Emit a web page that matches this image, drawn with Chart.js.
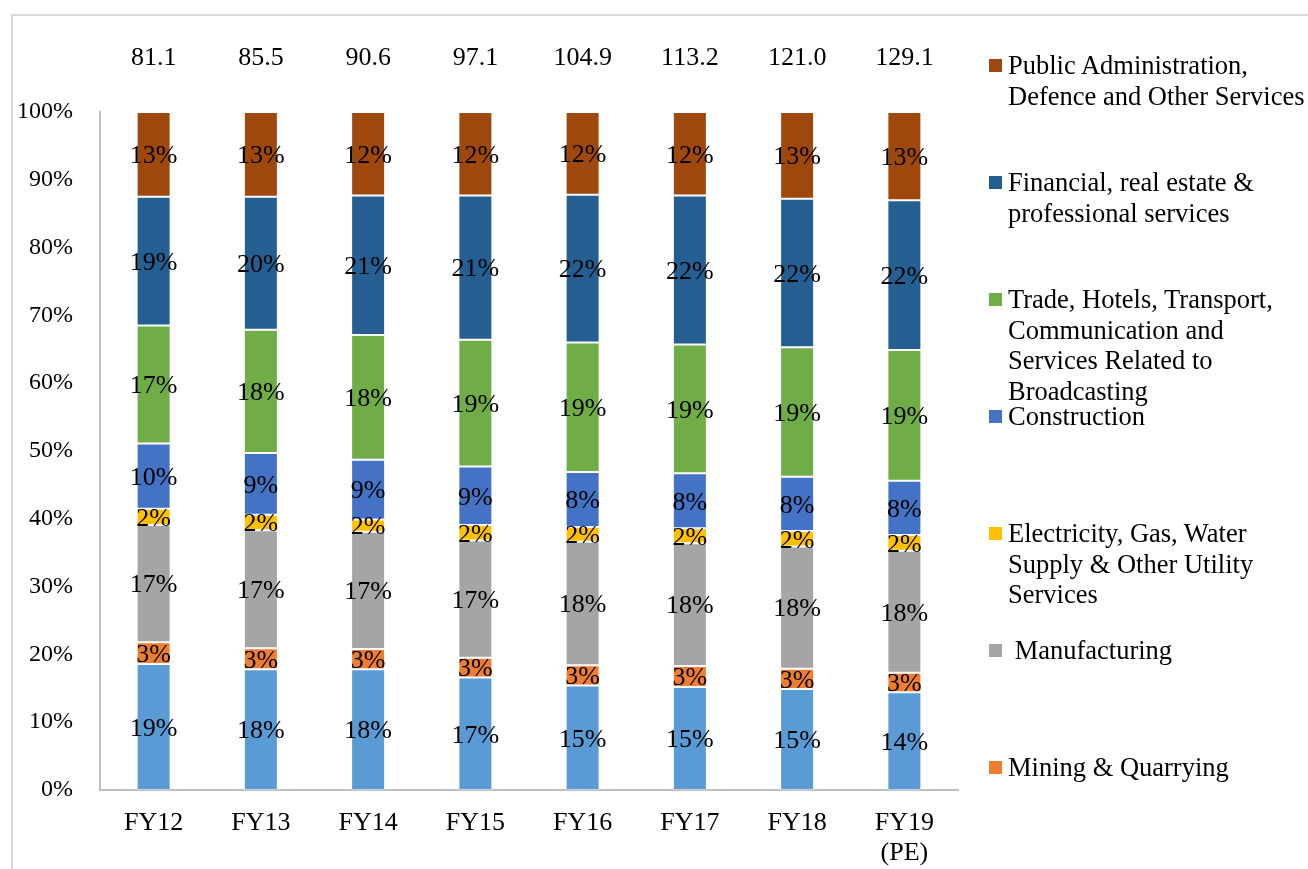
<!DOCTYPE html>
<html>
<head>
<meta charset="utf-8">
<script src="https://cdn.jsdelivr.net/npm/chart.js@4/dist/chart.umd.min.js"></script>
<style>
  html, body { margin: 0; padding: 0; background: #fff; }
  #wrap { position: relative; width: 1308px; height: 869px; overflow: hidden; }
  #frame { position: absolute; left: 11px; top: 14px; width: 1400px; height: 900px;
           border-left: 2px solid #d9d9d9; border-top: 2px solid #d9d9d9; }
  canvas { position: absolute; left: 0; top: 0; }
  #legend { position: absolute; left: 989px; top: 50px; font-family: "Liberation Serif", "Times New Roman", serif;
            font-size: 26.5px; color: #000; }
  .item { position: relative; height: 117px; }
  .box { position: absolute; left: 0; top: 9px; width: 13px; height: 13px; }
  .txt { position: absolute; left: 19px; top: 0; line-height: 30.5px; white-space: pre; }
</style>
</head>
<body>
<div id="wrap">
  <div id="frame"></div>
  <canvas id="gvaChart" width="1308" height="869"></canvas>
  <div id="legend"></div>
</div>
<script>
const years = ['FY12', 'FY13', 'FY14', 'FY15', 'FY16', 'FY17', 'FY18', ['FY19', '(PE)']];
const totals = ['81.1', '85.5', '90.6', '97.1', '104.9', '113.2', '121.0', '129.1'];

// share of GVA, % (bottom to top)
const agriculture   = [18.6, 17.8, 17.8, 16.6, 15.4, 15.2, 14.9, 14.4];
const mining        = [3.2, 3.1, 3.0, 2.9, 3.0, 3.1, 3.0, 2.9];
const manufacturing = [17.3, 17.4, 17.3, 17.3, 18.2, 18.1, 18.0, 18.0];
const electricity   = [2.4, 2.3, 1.8, 2.3, 2.2, 2.2, 2.3, 2.3];
const construction  = [9.6, 9.1, 8.8, 8.6, 8.1, 8.1, 8.0, 8.0];
const trade         = [17.4, 18.2, 18.4, 18.7, 19.1, 19.0, 19.1, 19.3];
const financial     = [19.0, 19.6, 20.6, 21.3, 21.8, 22.0, 21.9, 22.1];
const publicAdmin   = [12.5, 12.5, 12.3, 12.3, 12.2, 12.3, 12.8, 13.0];

const series = [
    { label: 'Agriculture, Forestry & Fishing', data: agriculture, color: '#5b9bd5', legend: false },
    { label: 'Mining & Quarrying', data: mining, color: '#ed7d31', legend: true },
    { label: ' Manufacturing', data: manufacturing, color: '#a5a5a5', legend: true },
    { label: 'Electricity, Gas, Water\nSupply & Other Utility\nServices', data: electricity, color: '#ffc000', legend: true },
    { label: 'Construction', data: construction, color: '#4472c4', legend: true },
    { label: 'Trade, Hotels, Transport,\nCommunication and\nServices Related to\nBroadcasting', data: trade, color: '#70ad47', legend: true },
    { label: 'Financial, real estate &\nprofessional services', data: financial, color: '#255e91', legend: true },
    { label: 'Public Administration,\nDefence and Other Services', data: publicAdmin, color: '#9e480e', legend: true }
];

const serif = '"Liberation Serif", "Times New Roman", serif';

// percentage labels in the middle of each segment
const segmentLabels = {
    id: 'segmentLabels',
    afterDatasetsDraw(chart) {
        const ctx = chart.ctx;
        ctx.save();
        ctx.font = '26px ' + serif;
        ctx.fillStyle = '#000';
        ctx.textAlign = 'center';
        ctx.textBaseline = 'middle';
        chart.data.datasets.forEach((ds, i) => {
            chart.getDatasetMeta(i).data.forEach((bar, j) => {
                const p = bar.getProps(['x', 'y', 'base'], true);
                ctx.fillText(Math.round(ds.data[j]) + '%', p.x, (p.y + p.base) / 2 + 2);
            });
        });
        ctx.restore();
    }
};

// GVA totals above each bar
const totalLabels = {
    id: 'totalLabels',
    afterDraw(chart) {
        const ctx = chart.ctx;
        const xScale = chart.scales.x;
        ctx.save();
        ctx.font = '26px ' + serif;
        ctx.fillStyle = '#000';
        ctx.textAlign = 'center';
        ctx.textBaseline = 'middle';
        totals.forEach((t, j) => {
            ctx.fillText(t, xScale.getPixelForValue(j), 58);
        });
        ctx.restore();
    }
};

new Chart(document.getElementById('gvaChart').getContext('2d'), {
    type: 'bar',
    data: {
        labels: years,
        datasets: series.map(s => ({
            label: s.label,
            data: s.data,
            backgroundColor: s.color,
            borderColor: 'rgba(255,255,255,0.3)',
            borderWidth: 1,
            borderSkipped: false,
            categoryPercentage: 1,
            barPercentage: 0.317
        }))
    },
    options: {
        responsive: false,
        animation: false,
        layout: { padding: { top: 112, right: 350, left: 0, bottom: 0 } },
        plugins: {
            legend: { display: false },
            tooltip: { enabled: false }
        },
        scales: {
            x: {
                stacked: true,
                grid: { display: false, drawTicks: false },
                border: { color: '#bfbfbf', width: 2 },
                ticks: { color: '#000', font: { family: serif, size: 26, lineHeight: 1.15 }, padding: 18 },
                afterFit(scale) { scale.height = 79; }
            },
            y: {
                stacked: true,
                min: 0,
                max: 100,
                grid: { display: false, drawTicks: false },
                border: { color: '#bfbfbf', width: 2 },
                ticks: {
                    stepSize: 10,
                    color: '#000',
                    font: { family: serif, size: 24 },
                    padding: 27,
                    callback: v => v + '%'
                },
                afterFit(scale) { scale.width = 100; }
            }
        }
    },
    plugins: [segmentLabels, totalLabels]
});

// legend on the right, top series first
const legendDiv = document.getElementById('legend');
series.filter(s => s.legend).reverse().forEach(s => {
    const item = document.createElement('div');
    item.className = 'item';
    const box = document.createElement('div');
    box.className = 'box';
    box.style.background = s.color;
    const txt = document.createElement('div');
    txt.className = 'txt';
    txt.textContent = s.label;
    item.appendChild(box);
    item.appendChild(txt);
    legendDiv.appendChild(item);
});
</script>
</body>
</html>
